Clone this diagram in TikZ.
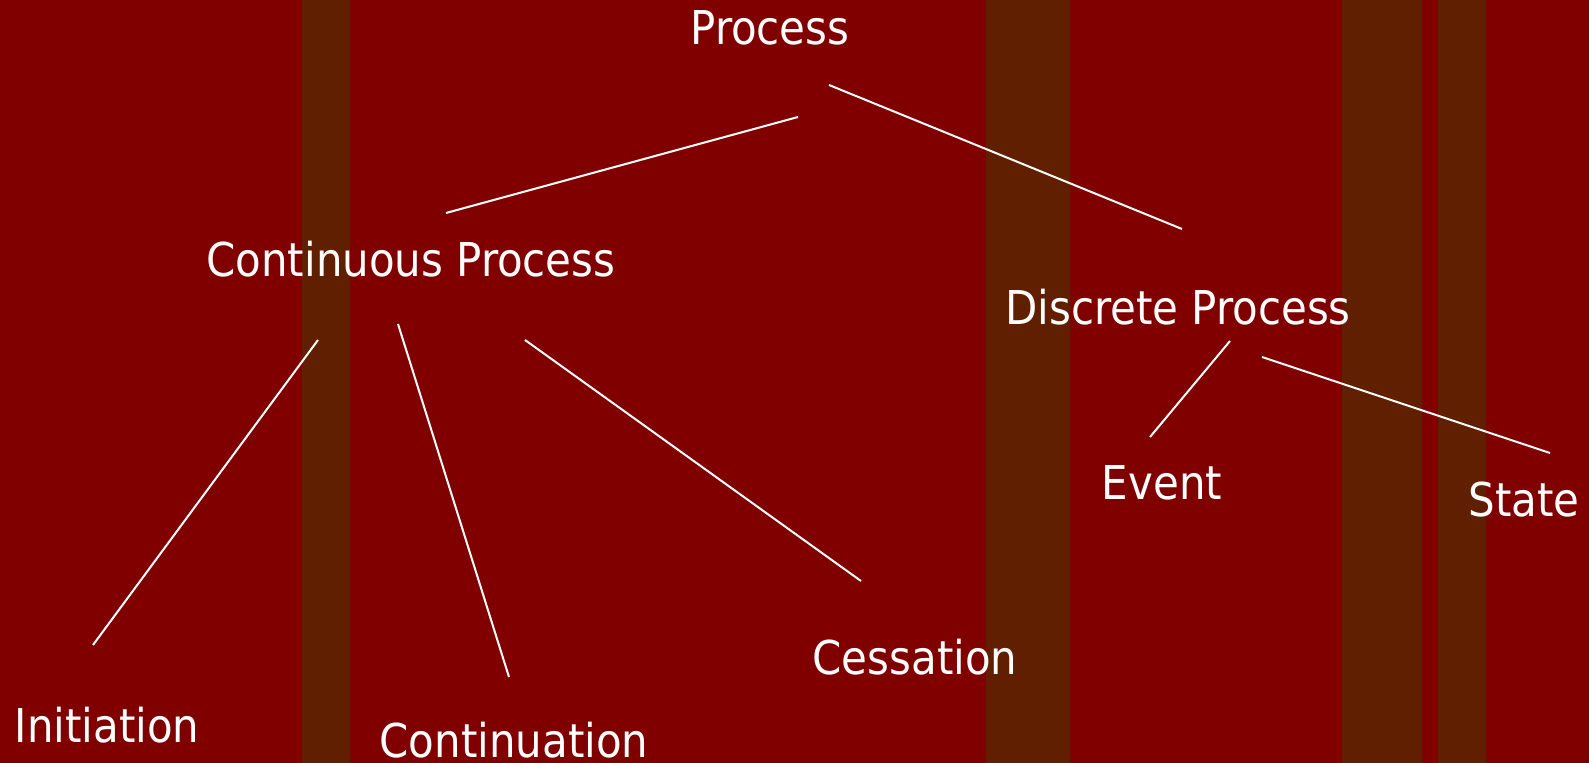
\documentclass[tikz,border=0pt]{standalone}
\usepackage{fontspec}
\setmainfont{DejaVu Sans Condensed}
\definecolor{slidered}{RGB}{128,0,0}
\definecolor{stripebrown}{RGB}{96,32,0}

\begin{document}
\begin{tikzpicture}[x=0.5pt,y=-0.5pt,
  term/.style={text=white,inner sep=0pt,anchor=base,font=\fontsize{23.3}{27}\selectfont},
  branch/.style={draw=white,line width=1pt}]
\useasboundingbox (0,0) rectangle (1589,763);
% background and stripes
\fill[slidered] (0,0) rectangle (1589,763);
\fill[stripebrown] (302,0) rectangle (350,763)
  (986,0) rectangle (1070,763)
  (1342,0) rectangle (1422,763)
  (1438,0) rectangle (1486,763);

% terms
\node[term] (proc) at (770,45) {Process};
\node[term] (cont) at (411,277) {Continuous Process};
\node[term] (disc) at (1178,325) {Discrete Process};
\node[term] (init) at (107,742) {Initiation};
\node[term] (cntn) at (514,757) {Continuation};
\node[term] (cess) at (915,675) {Cessation};
\node[term] (evt) at (1162,500) {Event};
\node[term] (stat) at (1524,517) {State};

% ends of the branches
\coordinate (proc-l) at (798,117);
\coordinate (proc-r) at (829,85);
\coordinate (cont-t) at (446,213);
\coordinate (cont-l) at (318,340);
\coordinate (cont-m) at (398,324);
\coordinate (cont-r) at (525,340);
\coordinate (disc-t) at (1182,229);
\coordinate (disc-l) at (1230,341);
\coordinate (disc-r) at (1262,357);
\coordinate (init-t) at (93,645);
\coordinate (cntn-t) at (509,677);
\coordinate (cess-t) at (861,581);
\coordinate (evt-t) at (1150,437);
\coordinate (stat-t) at (1550,453);

\draw[branch] (proc-l)--(cont-t);
\draw[branch] (proc-r)--(disc-t);
\draw[branch] (cont-l)--(init-t);
\draw[branch] (cont-m)--(cntn-t);
\draw[branch] (cont-r)--(cess-t);
\draw[branch] (disc-l)--(evt-t);
\draw[branch] (disc-r)--(stat-t);
\end{tikzpicture}
\end{document}
